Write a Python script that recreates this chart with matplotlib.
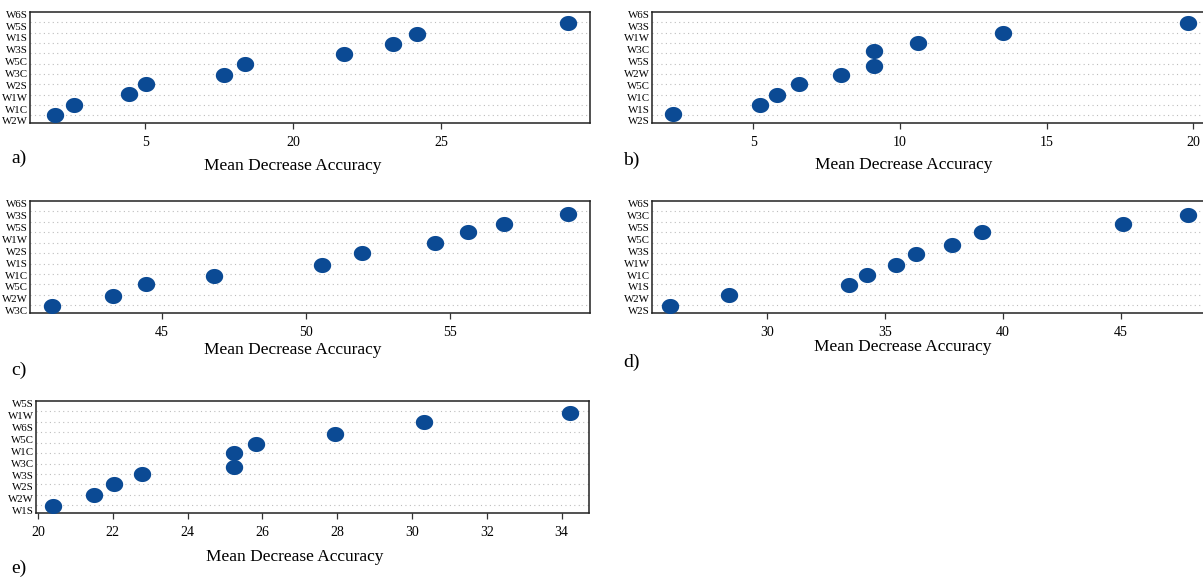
import numpy as np
import matplotlib
matplotlib.use('Agg')
import matplotlib.pyplot as plt

plt.rcParams['font.family'] = ['Liberation Serif', 'DejaVu Serif']

# y labels, listed top to bottom
labels_a = ['W6S', 'W5S', 'W1S', 'W3S', 'W5C', 'W3C', 'W2S', 'W1W', 'W1C', 'W2W']
labels_b = ['W6S', 'W3S', 'W1W', 'W3C', 'W5S', 'W2W', 'W5C', 'W1C', 'W1S', 'W2S']
labels_c = ['W6S', 'W3S', 'W5S', 'W1W', 'W2S', 'W1S', 'W1C', 'W5C', 'W2W', 'W3C']
labels_d = ['W6S', 'W3C', 'W5S', 'W5C', 'W3S', 'W1W', 'W1C', 'W1S', 'W2W', 'W2S']
labels_e = ['W5S', 'W1W', 'W6S', 'W5C', 'W1C', 'W3C', 'W3S', 'W2S', 'W2W', 'W1S']

# dot values, bottom row to top row
vals_a = [11.93, 12.57, 14.46, 15.03, 17.67, 18.38, 21.72, 23.38, 24.19, 29.29]
vals_b = [2.27, 5.24, 5.82, 6.57, 8.0, 9.13, 9.13, 10.63, 13.53, 19.81]
vals_c = [41.18, 43.30, 44.44, 46.81, 50.56, 51.94, 54.48, 55.63, 56.88, 59.10]
vals_d = [25.89, 28.39, 33.47, 34.24, 35.47, 36.31, 37.84, 39.11, 45.08, 47.84]
vals_e = [20.40, 21.50, 22.03, 22.78, 25.25, 25.25, 25.82, 27.93, 30.31, 34.22]

# dot rows (rows are not perfectly even)
rows_a = [1, 2, 3.05, 4, 4.9, 5.95, 6.9, 7.9, 8.85, 9.9]
rows_b = [1.15, 2, 3, 4.05, 4.9, 5.8, 7.25, 8.0, 9.0, 9.95]
rows_c = [0.95, 1.9, 3.05, 3.8, 4.9, 6.05, 6.95, 8.0, 8.75, 9.8]
rows_d = [0.95, 2.0, 2.9, 3.85, 4.9, 5.9, 6.75, 8.0, 8.75, 9.7]
rows_e = [0.95, 2.0, 3.0, 3.95, 4.7, 6.05, 6.9, 7.85, 9.0, 9.85]

# x ticks and their printed labels
ticks_a, tlab_a = [15, 20, 25], ['5', '20', '25']
ticks_b, tlab_b = [5, 10, 15, 20], ['5', '10', '15', '20']
ticks_c, tlab_c = [45, 50, 55], ['45', '50', '55']
ticks_d, tlab_d = [30, 35, 40, 45], ['30', '35', '40', '45']
ticks_e = [20, 22, 24, 26, 28, 30, 32, 34]
tlab_e = ['20', '22', '24', '26', '28', '30', '32', '34']

W, H = 1203, 579
fig = plt.figure(figsize=(W / 100, H / 100), dpi=100)
DOT = '#0b4a94'

# slightly flattened dot, like the stretched R dotchart
t = np.linspace(0, 2 * np.pi, 60)
ellipse = np.column_stack([np.cos(t), 0.87 * np.sin(t)])


def panel(box, xlim, labels, vals, rows, ticks, tlabs, letter, letter_xy, xlab_xy):
    x0, y0, x1, y1 = box
    ax = fig.add_axes([x0 / W, 1 - y1 / H, (x1 - x0) / W, (y1 - y0) / H])
    for i in range(1, 11):
        ax.axhline(i, color='#bdbdbd', linestyle=(0, (1, 3)), linewidth=0.8, zorder=1)
    ax.plot(vals, rows, linestyle='none', marker=ellipse, color=DOT,
            markersize=12.5, markeredgewidth=0, zorder=3)
    ax.set_xlim(*xlim)
    ax.set_ylim(0.25, 11.0)
    ax.set_yticks(np.linspace(10.78, 0.45, 10), labels)
    ax.tick_params(axis='y', length=0, pad=1.5, labelsize=7.8)
    ax.set_xticks(ticks, tlabs)
    ax.tick_params(axis='x', length=4.3, width=0.9, color='#333333', pad=5, labelsize=10)
    for s in ax.spines.values():
        s.set_linewidth(1.1)
        s.set_color('#222222')
    fig.text(xlab_xy[0] / W, 1 - xlab_xy[1] / H, 'Mean Decrease Accuracy',
             ha='center', va='center', fontsize=12.5)
    fig.text(letter_xy[0] / W, 1 - letter_xy[1] / H, letter,
             ha='center', va='center', fontsize=14)
    return ax


panel((30, 12, 590, 123), (11.1, 30.02), labels_a, vals_a, rows_a, ticks_a, tlab_a,
      'a)', (19, 158), (293, 166))
panel((652, 12, 1208, 123), (1.55, 20.5), labels_b, vals_b, rows_b, ticks_b, tlab_b,
      'b)', (631, 160), (904, 165))
panel((30, 201, 590, 313), (40.42, 59.86), labels_c, vals_c, rows_c, ticks_c, tlab_c,
      'c)', (19, 370), (293, 350))
panel((652, 201, 1210, 313), (25.13, 48.77), labels_d, vals_d, rows_d, ticks_d, tlab_d,
      'd)', (631, 362), (903, 347))
panel((36, 401, 589, 513), (19.95, 34.73), labels_e, vals_e, rows_e, ticks_e, tlab_e,
      'e)', (19, 568), (295, 557))

fig.savefig('out.png', dpi=100)
